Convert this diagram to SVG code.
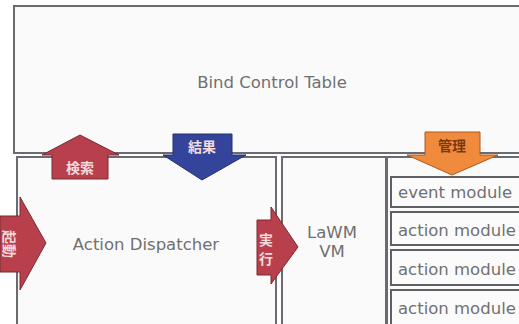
<svg xmlns="http://www.w3.org/2000/svg" width="519" height="324" viewBox="0 0 519 324">
<style>
.box{fill:#fafafa;stroke:#6a6a70;stroke-width:2}
.mod{fill:#fbfbfb;stroke:#5f5f66;stroke-width:2}
.lbl{font-family:"DejaVu Sans",Verdana,sans-serif;fill:#707070;font-size:16.5px}
.red{fill:#b8404c;stroke:#7a2a33;stroke-width:1}
.blue{fill:#33449a;stroke:#22306e;stroke-width:1}
.orange{fill:#f08a3c;stroke:#a85a20;stroke-width:1}
.at{font-family:"Noto Sans CJK JP",sans-serif;font-size:14px;font-weight:bold;fill:#f4dada;text-anchor:middle}
</style>
<rect width="519" height="324" fill="#ffffff"/>
<g id="bind-control-table">
<rect class="box" x="14" y="6" width="520" height="147"/>
<text class="lbl" x="272" y="88" text-anchor="middle">Bind Control Table</text>
</g>
<g id="action-dispatcher">
<rect class="box" x="17" y="157" width="259" height="175"/>
<text class="lbl" x="146" y="250" text-anchor="middle">Action Dispatcher</text>
</g>
<g id="lawm-vm">
<rect class="box" x="282" y="157" width="104" height="175"/>
<text class="lbl" x="332" y="238" text-anchor="middle">LaWM</text>
<text class="lbl" x="332" y="257" text-anchor="middle">VM</text>
</g>
<g id="modules">
<rect class="box" x="387" y="157" width="140" height="175"/>
</g>
<g id="event-module">
<rect class="mod" x="391" y="177" width="140" height="30"/>
<text class="lbl" x="398" y="198">event module</text>
</g>
<g id="action-module-1">
<rect class="mod" x="391" y="212" width="140" height="33"/>
<text class="lbl" x="398" y="236">action module</text>
</g>
<g id="action-module-2">
<rect class="mod" x="391" y="250" width="140" height="35"/>
<text class="lbl" x="398" y="275">action module</text>
</g>
<g id="action-module-3">
<rect class="mod" x="391" y="290" width="140" height="40"/>
<text class="lbl" x="398" y="314">action module</text>
</g>
<g id="connectors">
<g id="search">
<polygon class="red" points="80,135 119,155 108,155 108,179 52,179 52,155 42,155"/>
<text class="at" x="80" y="173">検索</text>
</g>
<g id="result">
<polygon class="blue" points="173,134 232,134 232,155 246,155 202,180 163,155 173,155"/>
<text class="at" x="202" y="152">結果</text>
</g>
<g id="manage">
<polygon class="orange" points="425,132 480,132 480,155 498,155 452,175 407,155 425,155"/>
<text class="at" x="452" y="151" style="fill:#7a3a10">管理</text>
</g>
<g id="start">
<polygon class="red" points="0,216 20,216 20,197 46,243 20,290 20,272 0,272"/>
<text class="at" transform="translate(9,244) rotate(90)" x="0" y="5" font-size="12">起動</text>
</g>
<g id="execute">
<polygon class="red" points="257,220 271,220 271,207 298,247 271,284 271,275 257,275"/>
<text class="at" x="266" y="245">実</text>
<text class="at" x="266" y="264">行</text>
</g>
</g>
</svg>
